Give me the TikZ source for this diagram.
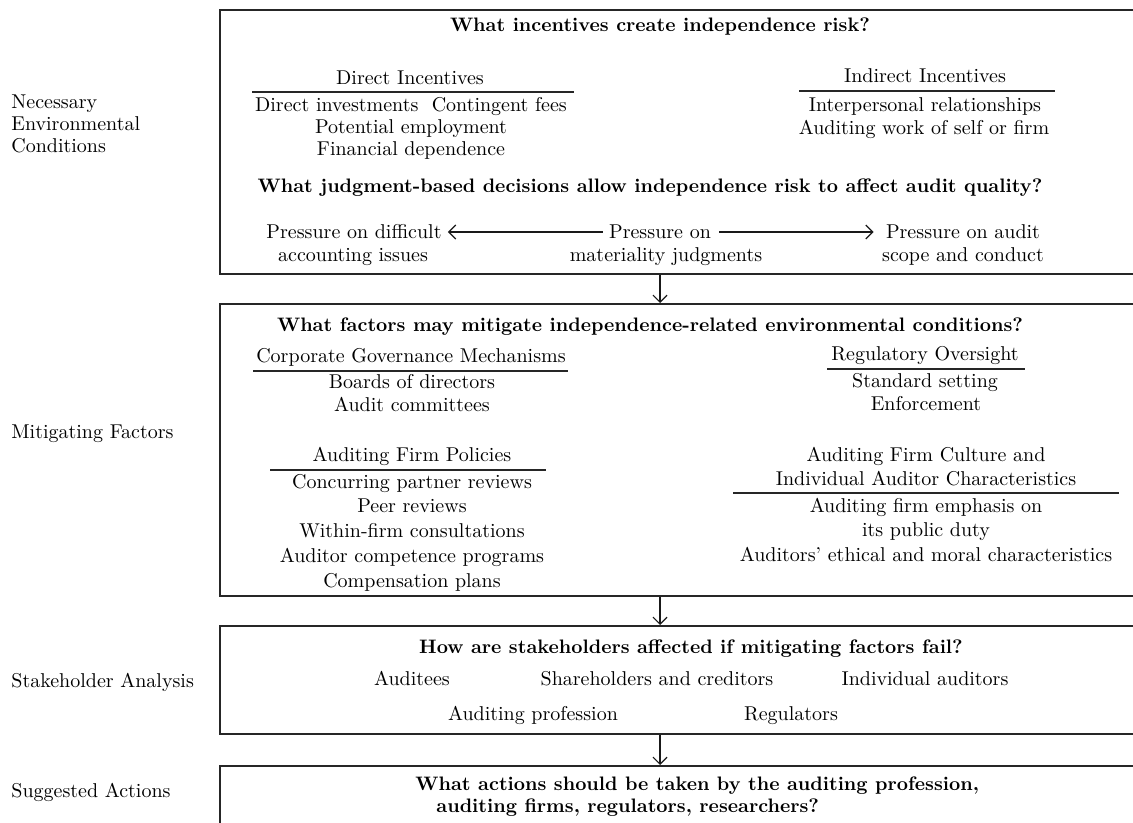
\documentclass[tikz,border=0pt]{standalone}
\usetikzlibrary{arrows.meta}
\begin{document}
\begin{tikzpicture}[x=0.5pt,y=-0.5pt,
 txt/.style={inner sep=0pt, text height=7pt, text depth=2pt, font=\fontsize{10}{12}\selectfont},
 ttl/.style={inner sep=0pt, text height=7pt, text depth=2pt, font=\fontsize{9.75}{12}\selectfont\bfseries},
 lbl/.style={txt, anchor=west},
 box/.style={draw=black!85, line width=0.9pt, inner sep=0pt, anchor=north west, minimum width=473pt},
 rule/.style={line width=0.7pt, black!85},
 arr/.style={line width=0.6pt, black!90, -{Straight Barb[length=3.5pt,width=7pt,line width=0.6pt]}},
]
\useasboundingbox (0,0) rectangle (1133,823);
\clip (0,0) rectangle (1133,823);

% left labels
\node[lbl] (l1a) at (11,104) {Necessary};
\node[lbl] (l1b) at (11,126) {Environmental};
\node[lbl] (l1c) at (11,148) {Conditions};
\node[lbl] (l2) at (11,433) {Mitigating Factors};
\node[lbl] (l3) at (11,682) {Stakeholder Analysis};
\node[lbl] (l4) at (11,792) {Suggested Actions};

% boxes
\node[box, minimum height=132pt] (b1) at (219,9) {};
\node[box, minimum height=146pt] (b2) at (219,303) {};
\node[box, minimum height=54pt] (b3) at (219,625) {};
\node[box, minimum height=40pt] (b4) at (219,765) {};

% box 1
\node[ttl] (t1) at (660,27) {What incentives create independence risk?};
\node[txt] (di) at (410,80) {Direct Incentives};
\draw[rule] (252,92) -- (574,92);
\node[txt] (di1) at (411,107) {Direct investments\ \ Contingent fees};
\node[txt] (di2) at (411,129) {Potential employment};
\node[txt] (di3) at (411,151) {Financial dependence};
\node[txt] (ii) at (925,78) {Indirect Incentives};
\draw[rule] (799,91) -- (1055,91);
\node[txt] (ii1) at (925,107) {Interpersonal relationships};
\node[txt] (ii2) at (924,130) {Auditing work of self or firm};
\node[ttl] (t2) at (650,188) {What judgment-based decisions allow independence risk to affect audit quality?};
\node[txt] (p1a) at (354,234) {Pressure on difficult};
\node[txt] (p1b) at (353,257) {accounting issues};
\node[txt] (p2a) at (660,234) {Pressure on};
\node[txt] (p2b) at (666,257) {materiality judgments};
\node[txt] (p3a) at (963,234) {Pressure on audit};
\node[txt] (p3b) at (963,257) {scope and conduct};
\draw[arr, shorten <=3pt, shorten >=3pt] ([yshift=1pt]p2a.west) -- ([yshift=1pt]p1a.east);
\draw[arr, shorten <=4pt, shorten >=6pt] ([yshift=1pt]p2a.east) -- ([yshift=1pt]p3a.west);

% box 2
\node[ttl] (t3) at (650,326) {What factors may mitigate independence-related environmental conditions?};
\node[txt] (cg) at (411,357) {Corporate Governance Mechanisms};
\draw[rule] (253,371) -- (568,371);
\node[txt] (cg1) at (412,383) {Boards of directors};
\node[txt] (cg2) at (412,406) {Audit committees};
\node[txt] (ro) at (925,355) {Regulatory Oversight};
\draw[rule] (827,369) -- (1025,369);
\node[txt] (ro1) at (925,382) {Standard setting};
\node[txt] (ro2) at (926,405) {Enforcement};
\node[txt] (fp) at (412,456) {Auditing Firm Policies};
\draw[rule] (270,470) -- (546,470);
\node[txt] (fp1) at (412,483) {Concurring partner reviews};
\node[txt] (fp2) at (412,507) {Peer reviews};
\node[txt] (fp3) at (412,532) {Within-firm consultations};
\node[txt] (fp4) at (412,557) {Auditor competence programs};
\node[txt] (fp5) at (412,582) {Compensation plans};
\node[txt] (fc1) at (926,456) {Auditing Firm Culture and};
\node[txt] (fc2) at (926,480) {Individual Auditor Characteristics};
\draw[rule] (733,493) -- (1119,493);
\node[txt] (fc3) at (926,507) {Auditing firm emphasis on};
\node[txt] (fc4) at (926,531) {its public duty};
\node[txt] (fc5) at (926,556) {Auditors' ethical and moral characteristics};

% box 3
\node[ttl] (t4) at (691,648) {How are stakeholders affected if mitigating factors fail?};
\node[txt] (s1) at (412,680) {Auditees};
\node[txt] (s2) at (657,680) {Shareholders and creditors};
\node[txt] (s3) at (925,680) {Individual auditors};
\node[txt] (s4) at (533,715) {Auditing profession};
\node[txt] (s5) at (791,715) {Regulators};

% box 4
\node[ttl, anchor=west] (t5a) at (415,785) {What actions should be taken by the auditing profession,};
\node[ttl, anchor=west] (t5b) at (436,807) {auditing firms, regulators, researchers?};

% connectors between boxes
\coordinate (ax) at (660,0);
\draw[arr] (b1.south -| ax) -- (b2.north -| ax);
\draw[arr] (b2.south -| ax) -- (b3.north -| ax);
\draw[arr] (b3.south -| ax) -- (b4.north -| ax);
\end{tikzpicture}
\end{document}
